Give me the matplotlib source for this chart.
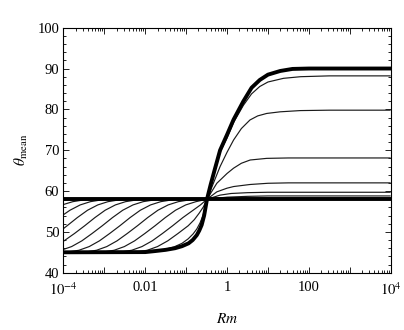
import matplotlib
matplotlib.use("Agg")
import matplotlib.pyplot as plt
from matplotlib.ticker import FixedLocator, NullFormatter, FixedFormatter

plt.rcParams['font.family'] = ['Liberation Serif', 'DejaVu Serif']
plt.rcParams['mathtext.fontset'] = 'stix'

# log10(Rm) knots and theta_mean values
thick_low_x = [-4.0, -2.0, -1.76, -1.5, -1.27, -1.1, -0.94, -0.84, -0.74, -0.68, -0.62, -0.56, -0.49,
               -0.4, -0.3, -0.17, 0.0, 0.16, 0.4, 0.6, 0.8, 1.0, 1.3, 1.6, 2.0, 4.0]
thick_low_y = [45.0, 45.05, 45.3, 45.6, 46.0, 46.5, 47.2, 48.0, 49.2, 50.3, 51.7, 54.0, 58.0,
               61.6, 65.3, 70.0, 73.8, 77.5, 82.0, 85.3, 87.2, 88.5, 89.4, 89.9, 90.0, 90.0]

thick_flat_x = [-4.0, 4.0]
thick_flat_y = [58.0, 58.0]

thin_curves = [
    # right plateau 88.2
    ([-4.0, -2.0, -1.6, -1.3, -1.1, -0.95, -0.83, -0.74, -0.66, -0.6, -0.55, -0.49,
      -0.35, -0.17, 0.0, 0.16, 0.4, 0.6, 0.8, 1.0, 1.38, 1.8, 2.5, 4.0],
     [45.0, 45.1, 45.5, 46.3, 47.2, 48.3, 49.5, 50.7, 52.2, 53.7, 55.4, 58.0,
      63.4, 69.5, 73.0, 76.8, 81.0, 83.8, 85.6, 86.7, 87.6, 88.0, 88.2, 88.2]),
    # right plateau 79.8
    ([-4.0, -2.55, -2.2, -1.95, -1.7, -1.45, -1.2, -0.95, -0.8, -0.68, -0.58, -0.49,
      -0.35, -0.17, 0.0, 0.16, 0.35, 0.56, 0.75, 0.97, 1.3, 1.79, 2.5, 4.0],
     [45.0, 45.0, 45.1, 45.5, 46.4, 47.8, 49.6, 51.5, 53.0, 54.6, 56.1, 58.0,
      61.5, 66.0, 69.5, 72.5, 75.3, 77.4, 78.4, 79.0, 79.4, 79.7, 79.8, 79.8]),
    # right plateau 68
    ([-4.0, -2.93, -2.58, -2.33, -2.08, -1.83, -1.58, -1.33, -1.08, -0.83, -0.65, -0.49,
      -0.25, 0.0, 0.16, 0.35, 0.565, 0.97, 1.5, 4.0],
     [45.0, 45.0, 45.1, 45.5, 46.4, 47.8, 49.6, 51.5, 53.5, 55.3, 56.6, 58.0,
      61.9, 64.3, 65.6, 66.8, 67.6, 68.0, 68.1, 68.1]),
    # right plateau 62
    ([-4.0, -3.36, -3.01, -2.76, -2.51, -2.26, -2.01, -1.76, -1.51, -1.26, -1.01, -0.76, -0.49,
      -0.25, 0.0, 0.16, 0.56, 1.0, 1.5, 4.0],
     [45.0, 45.0, 45.1, 45.5, 46.4, 47.8, 49.6, 51.5, 53.5, 55.3, 56.6, 57.4, 58.0,
      59.8, 60.7, 61.1, 61.6, 61.9, 62.0, 62.0]),
    # right plateau 59.7
    ([-4.0, -3.79, -3.44, -3.19, -2.94, -2.69, -2.44, -2.19, -1.94, -1.69, -1.44, -1.19, -0.94, -0.59, -0.49,
      -0.17, 0.1, 0.5, 1.0, 4.0],
     [45.0, 45.0, 45.1, 45.5, 46.4, 47.8, 49.6, 51.5, 53.5, 55.3, 56.6, 57.4, 57.8, 58.0, 58.0,
      59.0, 59.4, 59.6, 59.7, 59.7]),
    # right plateau 58.8
    ([-4.0, -3.87, -3.62, -3.37, -3.12, -2.87, -2.62, -2.37, -2.12, -1.87, -1.62, -1.37, -1.02, -0.49,
      0.0, 0.5, 1.0, 4.0],
     [45.05, 45.1, 45.5, 46.4, 47.8, 49.6, 51.5, 53.5, 55.3, 56.6, 57.4, 57.8, 58.0, 58.0,
      58.5, 58.7, 58.8, 58.8]),
    # right plateau 58.3
    ([-4.0, -3.8, -3.55, -3.3, -3.05, -2.8, -2.55, -2.3, -2.05, -1.8, -1.45, -0.49, 0.3, 4.0],
     [45.7, 46.4, 47.8, 49.6, 51.5, 53.5, 55.3, 56.6, 57.4, 57.8, 58.0, 58.0, 58.25, 58.3]),
    ([-4.0, -3.73, -3.48, -3.23, -2.98, -2.73, -2.48, -2.23, -1.88, -0.49, 4.0],
     [47.7, 49.6, 51.5, 53.5, 55.3, 56.6, 57.4, 57.8, 58.0, 58.0, 58.15]),
    ([-4.0, -3.91, -3.66, -3.41, -3.16, -2.91, -2.66, -2.31, -0.49, 4.0],
     [50.8, 51.5, 53.5, 55.3, 56.6, 57.4, 57.8, 58.0, 58.0, 58.08]),
    ([-4.0, -3.84, -3.59, -3.34, -3.09, -2.74, 4.0],
     [54.2, 55.3, 56.6, 57.4, 57.8, 58.0, 58.05]),
    ([-4.0, -3.77, -3.52, -3.17, 4.0],
     [56.7, 57.4, 57.8, 58.0, 58.03]),
    ([-4.0, -3.95, -3.6, 4.0],
     [57.75, 57.8, 58.0, 58.02]),
]

xtick_pos = [-4, -2, 0, 2, 4]
xtick_labels = [r'$10^{-4}$', '0.01', '1', '100', r'$10^{4}$']
ytick_pos = [40, 50, 60, 70, 80, 90, 100]

fig = plt.figure(figsize=(4.04, 3.30), dpi=100)
ax = fig.add_axes([0.157, 0.1736, 0.81, 0.7425])

def to_rm(xs):
    return [10.0 ** v for v in xs]

for xs, ys in thin_curves:
    ax.plot(to_rm(xs), ys, color='#1a1a1a', lw=0.85, solid_capstyle='butt')
ax.plot(to_rm(thick_low_x), thick_low_y, color='black', lw=2.8)
ax.plot(to_rm(thick_flat_x), thick_flat_y, color='black', lw=2.8)

ax.set_xscale('log')
ax.set_xlim(1e-4, 1e4)
ax.set_ylim(40, 100)

major = [10.0 ** k for k in range(-4, 5)]
ax.xaxis.set_major_locator(FixedLocator(major))
labels = []
for k in range(-4, 5):
    if k in xtick_pos:
        labels.append(xtick_labels[xtick_pos.index(k)])
    else:
        labels.append('')
ax.xaxis.set_major_formatter(FixedFormatter(labels))
minor = [m * 10.0 ** k for k in range(-4, 4) for m in range(2, 10)]
ax.xaxis.set_minor_locator(FixedLocator(minor))
ax.xaxis.set_minor_formatter(NullFormatter())

ax.set_yticks(ytick_pos)
ax.set_yticks(list(range(40, 101, 2)), minor=True)

ax.tick_params(which='both', direction='in', top=True, right=True, labelsize=10.5, width=0.6)
ax.tick_params(axis='x', which='major', pad=6)
ax.tick_params(axis='y', which='major', pad=3)
ax.tick_params(which='major', length=4)
ax.tick_params(which='minor', length=2)
for s in ax.spines.values():
    s.set_linewidth(0.8)

ax.set_xlabel(r'$Rm$', fontsize=11, labelpad=10)
ax.set_ylabel(r'$\theta_{\rm mean}$', fontsize=11, labelpad=5)

fig.savefig('out.png', dpi=100)
